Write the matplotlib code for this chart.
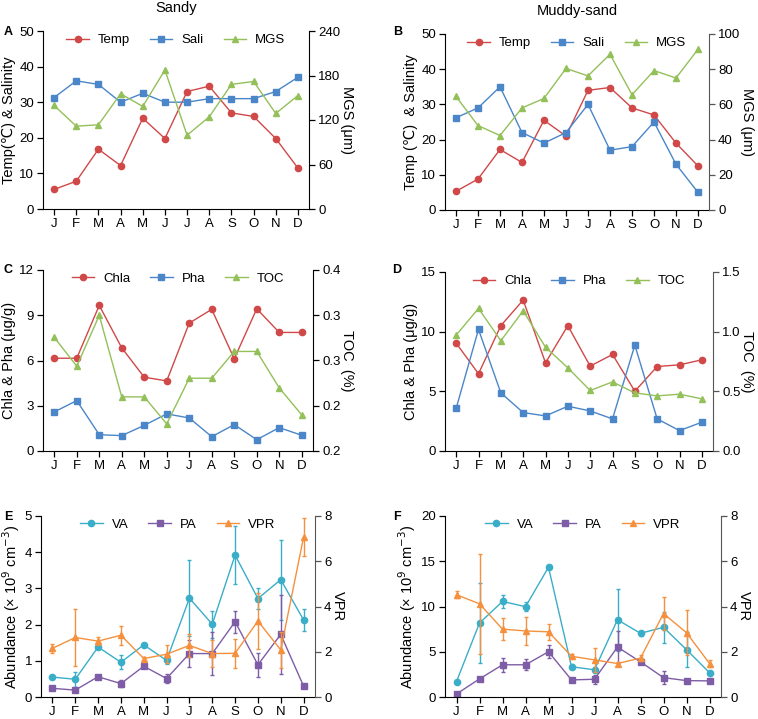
import matplotlib
matplotlib.use("Agg")
import matplotlib.pyplot as plt
from matplotlib.ticker import FormatStrFormatter
import numpy as np

plt.rcParams["font.family"] = ["Liberation Sans", "DejaVu Sans"]
plt.rcParams["font.size"] = 9

months = ["J", "F", "M", "A", "M", "J", "J", "A", "S", "O", "N", "D"]

# A - Sandy
a_temp = [5.5, 7.8, 16.8, 12.2, 25.5, 19.8, 33.0, 34.5, 27.0, 26.0, 19.8, 11.5]
a_sali = [31.3, 36.0, 35.0, 30.0, 32.5, 30.0, 30.0, 31.0, 31.0, 31.0, 33.0, 37.0]
a_mgs = [139.6, 111.7, 113.5, 155.4, 138.3, 187.4, 99.5, 124.3, 168.0, 172.0, 128.8, 153.0]

# B - Muddy-sand
b_temp = [5.3, 8.8, 17.2, 13.5, 25.5, 21.0, 34.0, 34.8, 29.0, 27.0, 19.0, 12.5]
b_sali = [26.2, 29.0, 35.0, 22.0, 19.0, 22.0, 30.0, 17.0, 18.0, 25.0, 13.0, 5.0]
b_mgs = [64.5, 48.0, 42.3, 58.0, 63.4, 80.4, 76.2, 88.5, 65.5, 79.2, 75.0, 91.3]

# C - Sandy
c_chla = [6.15, 6.15, 9.65, 6.84, 4.89, 4.65, 8.48, 9.39, 6.11, 9.43, 7.86, 7.86]
c_pha = [2.59, 3.34, 1.08, 1.02, 1.70, 2.46, 2.19, 0.95, 1.75, 0.75, 1.55, 1.04]
c_toc = [0.3255, 0.2937, 0.3498, 0.2598, 0.2598, 0.2299, 0.2804, 0.2804, 0.310, 0.310, 0.2697, 0.2399]

# D - Muddy-sand
d_chla = [9.04, 6.47, 10.5, 12.65, 7.39, 10.5, 7.11, 8.09, 5.01, 7.08, 7.22, 7.64]
d_pha = [3.58, 10.19, 4.87, 3.22, 2.94, 3.75, 3.36, 2.69, 8.87, 2.69, 1.71, 2.41]
d_toc = [0.971, 1.195, 0.924, 1.175, 0.870, 0.697, 0.507, 0.579, 0.487, 0.462, 0.476, 0.437]

# E - Sandy
e_va = [0.55, 0.49, 1.38, 0.96, 1.44, 1.01, 2.73, 2.01, 3.92, 2.72, 3.24, 2.13]
e_va_err = [0.03, 0.2, 0.05, 0.2, 0.03, 0.1, 1.05, 0.37, 0.8, 0.3, 1.1, 0.31]
e_pa = [0.24, 0.19, 0.56, 0.37, 0.85, 0.51, 1.2, 1.2, 2.08, 0.89, 1.73, 0.30]
e_pa_err = [0.03, 0.03, 0.05, 0.1, 0.05, 0.12, 0.37, 0.6, 0.3, 0.33, 1.1, 0.02]
e_vpr = [2.15, 2.63, 2.47, 2.73, 1.70, 1.89, 2.28, 1.92, 1.93, 3.36, 2.08, 7.06]
e_vpr_err = [0.19, 1.27, 0.16, 0.42, 0.05, 0.4, 0.5, 0.6, 0.64, 1.25, 0.8, 0.85]

# F - Muddy-sand
f_va = [1.71, 8.17, 10.56, 9.98, 14.34, 3.34, 3.01, 8.53, 7.04, 7.7, 5.23, 2.69]
f_va_err = [0.1, 4.4, 0.7, 0.47, 0.2, 0.3, 0.3, 3.4, 0.3, 1.7, 1.9, 0.2]
f_pa = [0.33, 2.0, 3.56, 3.56, 5.0, 1.89, 1.96, 5.52, 3.88, 2.14, 1.81, 1.78]
f_pa_err = [0.05, 0.1, 0.8, 0.6, 0.7, 0.1, 0.5, 1.8, 0.2, 0.7, 0.1, 0.1]
f_vpr = [4.52, 4.12, 3.0, 2.92, 2.88, 1.8, 1.64, 1.48, 1.72, 3.69, 2.84, 1.48]
f_vpr_err = [0.15, 2.2, 0.5, 0.6, 0.36, 0.1, 0.52, 0.05, 0.15, 0.75, 1.0, 0.15]

RED = "#d04848"
BLUE = "#4a86c8"
GREEN = "#94c05a"
CYAN = "#3aaec8"
PURPLE = "#7e5ca6"
ORANGE = "#f5913e"

W, H = 758, 719
fig = plt.figure(figsize=(W / 100, H / 100), dpi=100)
x = np.arange(12)


def rect(l, t, r, b):
    return [l / W, 1 - b / H, (r - l) / W, (b - t) / H]


def style(ax, ax2, rcolor):
    for a in (ax, ax2):
        a.spines["top"].set_visible(False)
        a.tick_params(direction="out", length=4, width=0.9, labelsize=9.5, pad=2.5)
    ax.spines["right"].set_visible(False)
    ax2.spines["left"].set_visible(False)
    ax2.spines["bottom"].set_visible(False)
    ax2.spines["right"].set_color(rcolor)
    ax2.tick_params(axis="y", colors=rcolor, labelcolor="black")
    ax.set_xticks(x)
    ax.set_xticklabels(months)
    ax.set_xlim(-0.5, 11.5)


def panel(pos, letter, letter_xy, series, lylim, lyticks, rylim, ryticks,
          ylab, rylab, rcolor="black", fmt=None, err=False):
    ax = fig.add_axes(rect(*pos))
    ax2 = ax.twinx()
    style(ax, ax2, rcolor)
    handles = []
    for label, vals, errs, color, marker, right in series:
        target = ax2 if right else ax
        if err:
            target.errorbar(x, vals, yerr=errs, color=color, ecolor=color,
                            elinewidth=1, capsize=1.5, fmt="none")
        h, = target.plot(x, vals, color=color, marker=marker, markersize=4.5,
                         linewidth=1, label=label)
        handles.append(h)
    ax.set_ylim(*lylim)
    ax.set_yticks(lyticks)
    ax2.set_ylim(*rylim)
    ax2.set_yticks(ryticks)
    if fmt:
        ax2.yaxis.set_major_formatter(FormatStrFormatter(fmt))
    ax.set_ylabel(ylab, fontsize=10.5, labelpad=2)
    ax2.set_ylabel(rylab, fontsize=10.5, rotation=270, labelpad=10)
    ax2.legend(handles=handles, loc="upper center", ncol=3, frameon=False,
               fontsize=9.5, handlelength=1.7, handletextpad=0.7,
               columnspacing=1.5, bbox_to_anchor=(0.5, 1.05))
    fig.text(letter_xy[0] / W, 1 - letter_xy[1] / H, letter, fontsize=9,
             fontweight="bold", ha="center", va="center")
    return ax


axA = panel((43, 31, 309, 209), "A", (8, 32),
            [("Temp", a_temp, None, RED, "o", False),
             ("Sali", a_sali, None, BLUE, "s", False),
             ("MGS", a_mgs, None, GREEN, "^", True)],
            (0, 50), [0, 10, 20, 30, 40, 50], (0, 240), [0, 60, 120, 180, 240],
            "Temp(\u2103) & Salinity", "MGS (\u03bcm)")
axA.set_title("Sandy", fontsize=10.5, pad=14)

axB = panel((445, 34, 709, 210), "B", (398, 32),
            [("Temp", b_temp, None, RED, "o", False),
             ("Sali", b_sali, None, BLUE, "s", False),
             ("MGS", b_mgs, None, GREEN, "^", True)],
            (0, 50), [0, 10, 20, 30, 40, 50], (0, 100), [0, 20, 40, 60, 80, 100],
            "Temp (\u2103)  & Salinity", "MGS (\u03bcm)", rcolor="#555555")
axB.set_title("Muddy-sand", fontsize=10.5, pad=14)

panel((43, 270, 313, 451), "C", (8, 270),
      [("Chla", c_chla, None, RED, "o", False),
       ("Pha", c_pha, None, BLUE, "s", False),
       ("TOC", c_toc, None, GREEN, "^", True)],
      (0, 12), [0, 3, 6, 9, 12], (0.2, 0.4), [0.2, 0.25, 0.3, 0.35, 0.4],
      "Chla & Pha (\u03bcg/g)", "TOC  (%)", fmt="%.1f")

panel((445, 272, 713, 451), "D", (397, 270),
      [("Chla", d_chla, None, RED, "o", False),
       ("Pha", d_pha, None, BLUE, "s", False),
       ("TOC", d_toc, None, GREEN, "^", True)],
      (0, 15), [0, 5, 10, 15], (0, 1.5), [0, 0.5, 1.0, 1.5],
      "Chla & Pha (\u03bcg/g)", "TOC  (%)", rcolor="#555555", fmt="%.1f")

panel((41, 516, 315, 697), "E", (8, 517),
      [("VA", e_va, e_va_err, CYAN, "o", False),
       ("PA", e_pa, e_pa_err, PURPLE, "s", False),
       ("VPR", e_vpr, e_vpr_err, ORANGE, "^", True)],
      (0, 5), [0, 1, 2, 3, 4, 5], (0, 8), [0, 2, 4, 6, 8],
      "Abundance (\u00d7 10$^{9}$ cm$^{-3}$)", "VPR", rcolor="#555555", err=True)

panel((445, 516, 721, 697), "F", (397, 517),
      [("VA", f_va, f_va_err, CYAN, "o", False),
       ("PA", f_pa, f_pa_err, PURPLE, "s", False),
       ("VPR", f_vpr, f_vpr_err, ORANGE, "^", True)],
      (0, 20), [0, 5, 10, 15, 20], (0, 8), [0, 2, 4, 6, 8],
      "Abundance (\u00d7 10$^{9}$ cm$^{-3}$)", "VPR", rcolor="#555555", err=True)

fig.savefig("out.png", dpi=100)
